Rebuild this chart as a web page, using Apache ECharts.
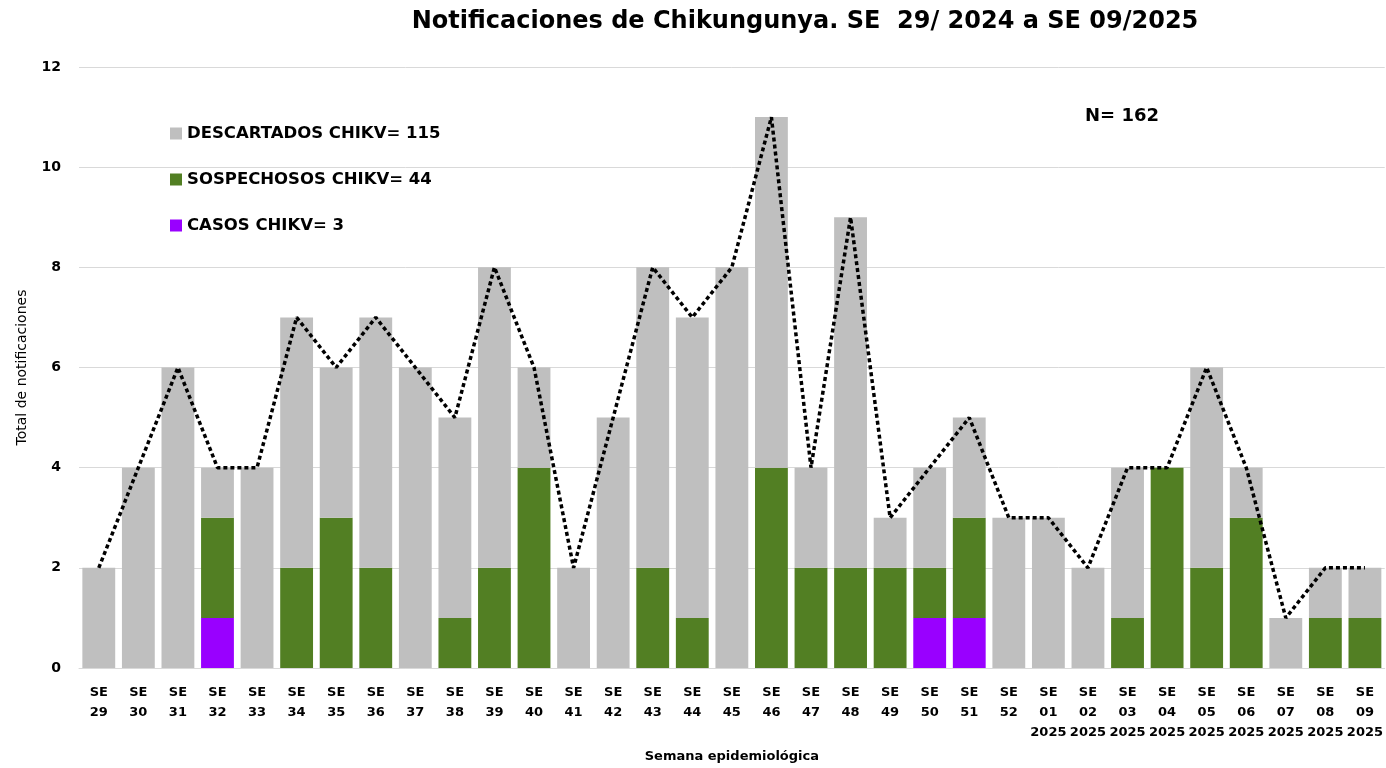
<!DOCTYPE html>
<html>
<head>
<meta charset="utf-8">
<script src="https://cdn.jsdelivr.net/npm/echarts@6/dist/echarts.min.js"></script>
<style>
  html, body { margin: 0; padding: 0; background: #fff; }
  #chart { width: 1386px; height: 768px; }
</style>
</head>
<body>
<div id="chart"></div>
<script>
// semanas epidemiologicas
const weeks = ['29','30','31','32','33','34','35','36','37','38','39','40','41','42','43','44','45','46','47','48','49','50','51','52','01','02','03','04','05','06','07','08','09'];
const years = ['','','','','','','','','','','','','','','','','','','','','','','','','2025','2025','2025','2025','2025','2025','2025','2025','2025'];

const casos = [0,0,0,1,0,0,0,0,0,0,0,0,0,0,0,0,0,0,0,0,0,1,1,0,0,0,0,0,0,0,0,0,0];
const sospechosos = [0,0,0,2,0,2,3,2,0,1,2,4,0,0,2,1,0,4,2,2,2,1,2,0,0,0,1,4,2,3,0,1,1];
const descartados = [2,4,6,1,4,5,3,5,6,4,6,2,2,5,6,6,8,7,2,7,1,2,2,3,3,2,3,0,4,1,1,1,1];
const totales = [2,4,6,4,4,7,6,7,6,5,8,6,2,5,8,7,8,11,4,9,3,4,5,3,3,2,4,4,6,4,1,2,2];

const yTicks = [0, 2, 4, 6, 8, 10, 12];

const categories = weeks.map((w, i) => 'SE\n' + w + (years[i] ? '\n' + years[i] : ''));

const FONT = '"DejaVu Sans", Verdana, sans-serif';

const chart = echarts.init(document.getElementById('chart'));

chart.setOption({
  animation: false,
  textStyle: { fontFamily: FONT },
  title: {
    text: 'Notificaciones de Chikungunya. SE  29/ 2024 a SE 09/2025',
    left: 800,
    textAlign: 'center',
    top: 5,
    textStyle: { fontSize: 24, fontWeight: 'bold', color: '#000', fontFamily: FONT }
  },
  graphic: [{
    type: 'text',
    left: 1085,
    top: 107,
    style: { text: 'N= 162', font: 'bold 18px ' + FONT, fill: '#000' }
  }],
  legend: {
    orient: 'vertical',
    left: 165,
    top: 120,
    icon: 'rect',
    itemWidth: 12,
    itemHeight: 12,
    itemGap: 29,
    data: ['DESCARTADOS CHIKV= 115', 'SOSPECHOSOS CHIKV= 44', 'CASOS CHIKV= 3'],
    textStyle: { fontSize: 16.5, fontWeight: 'bold', color: '#000', fontFamily: FONT }
  },
  grid: { left: 79, right: 0, top: 67, bottom: 99 },
  xAxis: {
    type: 'category',
    data: categories,
    name: 'Semana epidemiológica',
    nameLocation: 'middle',
    nameGap: 82,
    nameTextStyle: { fontSize: 13, fontWeight: 'bold', color: '#000' },
    axisLine: { lineStyle: { color: '#d9d9d9', width: 1 } },
    axisTick: { show: false },
    axisLabel: {
      interval: 0,
      margin: 15,
      fontSize: 13,
      fontWeight: 'bold',
      color: '#000',
      lineHeight: 20,
      verticalAlign: 'top'
    }
  },
  yAxis: {
    type: 'value',
    min: yTicks[0],
    max: yTicks[yTicks.length - 1],
    interval: 2,
    name: 'Total de notificaciones',
    nameLocation: 'middle',
    nameRotate: 90,
    nameGap: 50,
    nameTextStyle: { fontSize: 14, color: '#000' },
    axisLine: { show: false },
    axisTick: { show: false },
    axisLabel: { fontSize: 14, fontWeight: 'bold', color: '#000', margin: 18 },
    splitLine: { lineStyle: { color: '#d9d9d9', width: 1 } }
  },
  series: [
    {
      name: 'CASOS CHIKV= 3',
      type: 'bar',
      stack: 'total',
      data: casos,
      barCategoryGap: '17%',
      itemStyle: { color: '#9900ff' }
    },
    {
      name: 'SOSPECHOSOS CHIKV= 44',
      type: 'bar',
      stack: 'total',
      data: sospechosos,
      itemStyle: { color: '#527f23' }
    },
    {
      name: 'DESCARTADOS CHIKV= 115',
      type: 'bar',
      stack: 'total',
      data: descartados,
      itemStyle: { color: '#bfbfbf' }
    },
    {
      name: 'Total',
      type: 'line',
      data: totales,
      symbol: 'none',
      z: 5,
      lineStyle: { color: '#000', width: 3.5, type: [4, 3] }
    }
  ]
});
</script>
</body>
</html>
